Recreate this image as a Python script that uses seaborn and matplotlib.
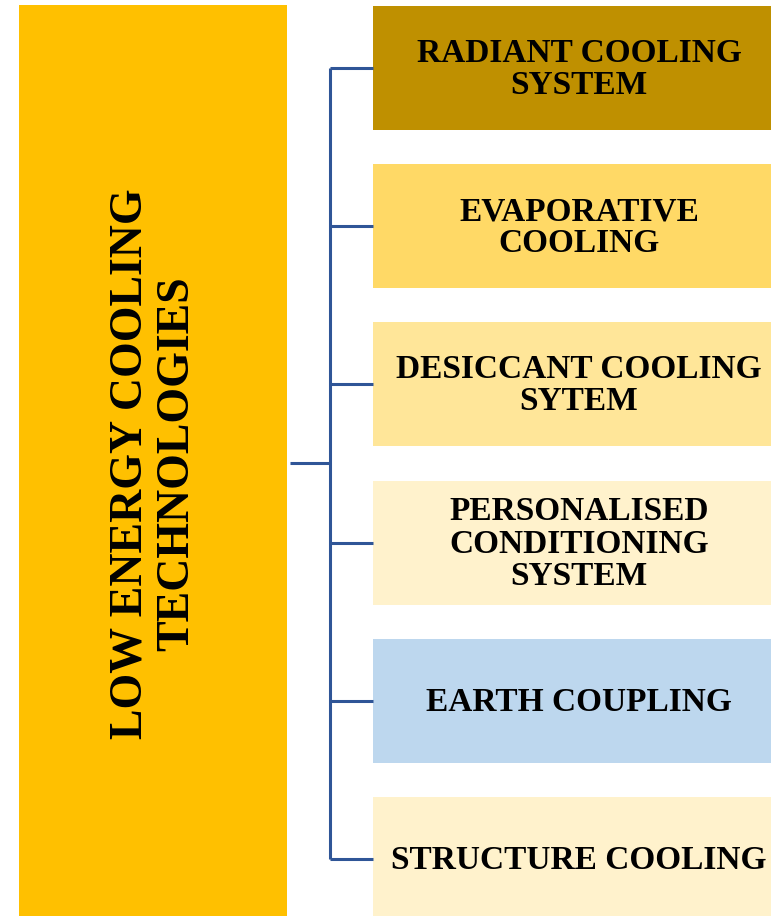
import matplotlib
matplotlib.use("Agg")
import matplotlib.pyplot as plt
from matplotlib.patches import Rectangle
import seaborn as sns

# ---- data ----
root_label = "LOW ENERGY COOLING\nTECHNOLOGIES"
categories = [
    "RADIANT COOLING\nSYSTEM",
    "EVAPORATIVE\nCOOLING",
    "DESICCANT COOLING\nSYTEM",
    "PERSONALISED\nCONDITIONING\nSYSTEM",
    "EARTH COUPLING",
    "STRUCTURE COOLING",
]
box_colors = ["#BF9000", "#FFD966", "#FFE699", "#FFF2CC", "#BDD7EE", "#FFF2CC"]
root_color = "#FFC000"
line_color = "#2F5597"

sns.set_theme(style="white")
plt.rcParams["font.family"] = ["Liberation Serif", "DejaVu Serif"]

W, H = 771, 916
fig = plt.figure(figsize=(W / 100, H / 100), dpi=100)
ax = fig.add_axes([0, 0, 1, 1])
ax.set_xlim(0, W)
ax.set_ylim(H, 0)
ax.axis("off")

# root box
ax.add_patch(Rectangle((19, 5), 268, 911, facecolor=root_color, edgecolor="none"))
ax.text(154, 464, root_label, rotation=90, ha="center", va="center",
        fontsize=33, fontweight="bold", color="black", linespacing=1.13)

# child boxes
top0, step, bh = 6, 158.2, 124
bx0, bw = 373, 398
centers = []
for i, (lab, col) in enumerate(zip(categories, box_colors)):
    top = top0 + i * step
    h = bh if i < len(categories) - 1 else H - top
    ax.add_patch(Rectangle((bx0, top), bw, h, facecolor=col, edgecolor="none"))
    cy = top + bh / 2
    centers.append(cy)
    ax.text(bx0 + bw / 2 + 7, cy + 1.5, lab, ha="center", va="center",
            fontsize=24, fontweight="bold", color="black", linespacing=1.05,
            clip_on=True)

# connectors
vx = 330
ax.plot([vx, vx], [centers[0], centers[-1]], color=line_color, lw=2.2,
        solid_capstyle="butt")
for cy in centers:
    ax.plot([vx, bx0], [cy, cy], color=line_color, lw=2.2, solid_capstyle="butt")
ax.plot([290, vx], [463, 463], color=line_color, lw=2.2, solid_capstyle="butt")

fig.savefig("out.png", dpi=100)
